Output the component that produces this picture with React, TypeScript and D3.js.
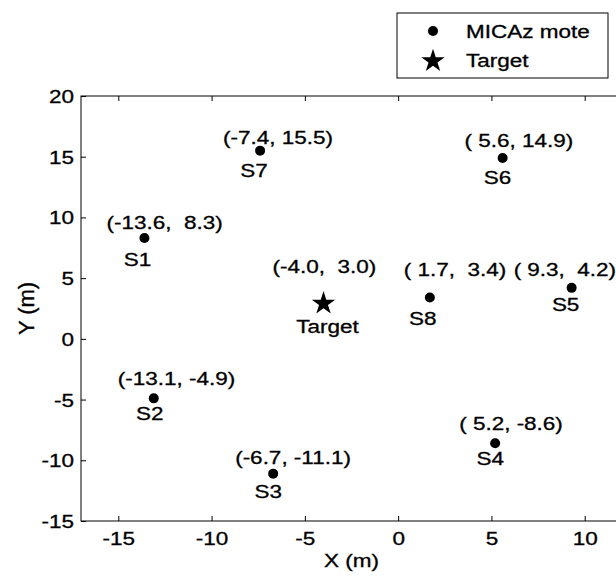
import * as d3 from "d3";
import { useRef, useEffect } from "react";

// sensor motes
const moteNames: string[] = ["S1", "S2", "S3", "S4", "S5", "S6", "S7", "S8"];
const moteX: number[] = [-13.6, -13.1, -6.7, 5.2, 9.3, 5.6, -7.4, 1.7];
const moteY: number[] = [8.3, -4.9, -11.1, -8.6, 4.2, 14.9, 15.5, 3.4];

// target
const targetNames: string[] = ["Target"];
const targetX: number[] = [-4.0];
const targetY: number[] = [3.0];

const xTicks: number[] = [-15, -10, -5, 0, 5, 10];
const yTicks: number[] = [-15, -10, -5, 0, 5, 10, 15, 20];
const legendLabels: string[] = ["MICAz mote", "Target"];

// label nudges in px, [dx, dy] (coordinate label / name label)
const coordShift: number[][] = [[-38, -9], [-36, -13], [-38, -10], [-36, -13], [-58, -12], [-38, -11], [-37, -7], [-26, -22]];
const nameShift: number[][] = [[-7, 28], [-4, 22], [-5, 24], [-5, 22], [-6, 23], [-5, 26], [-6, 26], [-7, 27]];
const targetCoordShift: number[] = [-51, -29];
const targetNameShift: number[] = [4, 31];

const FONT = "'Liberation Sans', Arial, Helvetica, sans-serif";
const SX = 1.25; // text in the picture is stretched sideways

const fmt = (v: number) => v.toFixed(1).padStart(4, " ");

export default function App() {
  const svgRef: any = useRef();

  useEffect(() => {
    const w = 616;
    const h = 576;
    const svg = d3.select(svgRef.current).attr("width", w).attr("height", h);
    svg.selectAll("*").remove();

    const left = 81, right = 622, top = 96, bottom = 521;
    const xScale = d3.scaleLinear().domain([-17, 12]).range([left, right]);
    const yScale = d3.scaleLinear().domain([-15, 20]).range([bottom, top]);

    const styleAxis = (g: any) => {
      g.select(".domain").remove();
      g.selectAll("line").attr("stroke", "#000");
      g.selectAll("text")
        .attr("fill", "#000")
        .attr("stroke", "#000")
        .attr("stroke-width", 0.3)
        .attr("font-family", FONT)
        .attr("font-size", 18)
        .attr("dy", null);
    };

    // bottom axis with labels
    svg.append("g")
      .attr("transform", `translate(0, ${bottom})`)
      .call(d3.axisBottom(xScale).tickValues(xTicks).tickSizeInner(-5).tickSizeOuter(0).tickFormat((d: any) => `${d}`))
      .call(styleAxis)
      .call((g: any) => g.selectAll("text").attr("y", 24).attr("transform", `scale(${SX},1)`));

    // top axis ticks only
    svg.append("g")
      .attr("transform", `translate(0, ${top})`)
      .call(d3.axisTop(xScale).tickValues(xTicks).tickSizeInner(-5).tickSizeOuter(0).tickFormat(() => ""))
      .call(styleAxis);

    // left axis with labels
    svg.append("g")
      .attr("transform", `translate(${left}, 0)`)
      .call(d3.axisLeft(yScale).tickValues(yTicks).tickSizeInner(-5).tickSizeOuter(0).tickFormat((d: any) => `${d}`))
      .call(styleAxis)
      .call((g: any) => g.selectAll("text").attr("x", -7 / SX).attr("y", 6.5).attr("transform", `scale(${SX},1)`));

    // right axis ticks only
    svg.append("g")
      .attr("transform", `translate(${right}, 0)`)
      .call(d3.axisRight(yScale).tickValues(yTicks).tickSizeInner(-5).tickSizeOuter(0).tickFormat(() => ""))
      .call(styleAxis);

    // box
    svg.append("rect")
      .attr("x", left).attr("y", top)
      .attr("width", right - left).attr("height", bottom - top)
      .attr("fill", "none").attr("stroke", "#000").attr("stroke-width", 1);

    const label = (sel: any) =>
      sel.attr("font-family", FONT).attr("font-size", 18)
        .attr("fill", "#000").attr("stroke", "#000").attr("stroke-width", 0.3);

    // axis titles
    svg.append("text")
      .attr("transform", `translate(${(left + right) / 2}, 567) scale(${SX},1)`)
      .attr("text-anchor", "middle")
      .call(label)
      .text("X (m)");
    svg.append("text")
      .attr("transform", `translate(34, ${(top + bottom) / 2}) rotate(-90) scale(1.22,${SX})`)
      .attr("text-anchor", "middle")
      .call(label)
      .text("Y (m)");

    const star = d3.symbol().type(d3.symbolStar).size(170);

    // motes
    const motes = svg.append("g");
    moteNames.forEach((name, i) => {
      const px = xScale(moteX[i]);
      const py = yScale(moteY[i]);
      motes.append("circle").attr("cx", px).attr("cy", py).attr("r", 5).attr("fill", "#000");
      motes.append("text")
        .attr("transform", `translate(${px + coordShift[i][0]}, ${py + coordShift[i][1]}) scale(${SX},1)`)
        .call(label)
        .style("white-space", "pre")
        .text(`(${fmt(moteX[i])}, ${fmt(moteY[i])})`);
      motes.append("text")
        .attr("transform", `translate(${px + nameShift[i][0]}, ${py + nameShift[i][1]}) scale(${SX},1)`)
        .attr("text-anchor", "middle")
        .call(label)
        .text(name);
    });

    // target
    targetNames.forEach((name, i) => {
      const px = xScale(targetX[i]);
      const py = yScale(targetY[i]);
      svg.append("path").attr("d", star()).attr("transform", `translate(${px}, ${py + 1})`).attr("fill", "#000");
      svg.append("text")
        .attr("transform", `translate(${px + targetCoordShift[0]}, ${py + targetCoordShift[1]}) scale(${SX},1)`)
        .call(label)
        .style("white-space", "pre")
        .text(`(${fmt(targetX[i])}, ${fmt(targetY[i])})`);
      svg.append("text")
        .attr("transform", `translate(${px + targetNameShift[0]}, ${py + targetNameShift[1]}) scale(${SX},1)`)
        .attr("text-anchor", "middle")
        .call(label)
        .text(name);
    });

    // legend
    const legend = svg.append("g");
    legend.append("rect")
      .attr("x", 397).attr("y", 13).attr("width", 211).attr("height", 65)
      .attr("fill", "#fff").attr("stroke", "#000").attr("stroke-width", 1);
    legend.append("circle").attr("cx", 433).attr("cy", 31).attr("r", 5).attr("fill", "#000");
    legend.append("path").attr("d", star()).attr("transform", "translate(433, 61)").attr("fill", "#000");
    legendLabels.forEach((text, i) => {
      legend.append("text")
        .attr("transform", `translate(466, ${37.5 + i * 29}) scale(${SX},1)`)
        .call(label)
        .text(text);
    });
  }, []);

  return (
    <div style={{ position: "absolute", left: 0, top: 0 }}>
      <svg ref={svgRef} style={{ display: "block", background: "#fff" }}></svg>
    </div>
  );
}
